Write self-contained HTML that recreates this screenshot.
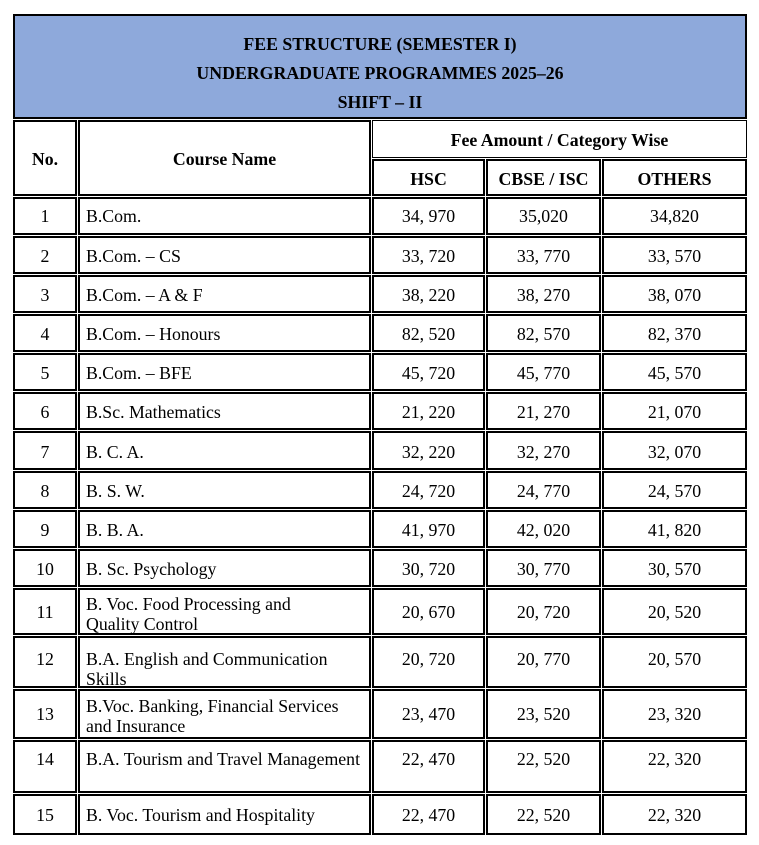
<!DOCTYPE html>
<html><head><meta charset="utf-8"><style>
body{margin:0;width:759px;height:845px;background:#fff;position:relative;font-family:"Liberation Serif",serif;color:#000;overflow:hidden}
.b{position:absolute;border:1px solid #000;box-sizing:border-box}
.t{position:absolute;font-size:17.8px;line-height:20px;white-space:nowrap}
.c{text-align:center}
.h{font-weight:bold}
</style></head><body>
<div class="b" style="left:13px;top:14px;width:734px;height:105px;background:#8EA9DB;border-width:2px"></div>
<div class="t c h" style="left:13px;width:734px;top:34px">FEE STRUCTURE (SEMESTER I)</div>
<div class="t c h" style="left:13px;width:734px;top:63px">UNDERGRADUATE PROGRAMMES 2025–26</div>
<div class="t c h" style="left:13px;width:734px;top:92px">SHIFT – II</div>
<div id="g"></div>
<script>
var cols=[[13,77],[78,371],[372,485],[486,601],[602,747]];
var h='';
function box(x1,y1,x2,y2,bw){h+='<div class="b" style="left:'+x1+'px;top:'+y1+'px;width:'+(x2-x1)+'px;height:'+(y2-y1)+'px;border-width:'+(bw||1)+'px"></div>';}
function txt(x1,x2,cy,s,cls,pad){h+='<div class="t '+cls+'" style="left:'+(x1+(pad||0))+'px;width:'+(x2-x1-(pad||0))+'px;top:'+(cy-9)+'px">'+s+'</div>';}
box(13,120,77,196,2);box(78,120,371,196,2);box(372,120,747,158,1);
box(372,159,485,196,2);box(486,159,601,196,2);box(602,159,747,196,2);
txt(13,77,158,'No.','c h');txt(78,371,158,'Course Name','c h');
txt(372,747,139,'Fee Amount / Category Wise','c h');
txt(372,485,178,'HSC','c h');txt(486,601,178,'CBSE / ISC','c h');txt(602,747,178,'OTHERS','c h');
var rows=[
[197,235,215,'B.Com.','34, 970','35,020','34,820'],
[236,274,255,'B.Com. – CS','33, 720','33, 770','33, 570'],
[275,313,294,'B.Com. – A &amp; F','38, 220','38, 270','38, 070'],
[314,352,333,'B.Com. – Honours','82, 520','82, 570','82, 370'],
[353,391,372,'B.Com. – BFE','45, 720','45, 770','45, 570'],
[392,430,411,'B.Sc. Mathematics','21, 220','21, 270','21, 070'],
[431,470,451,'B. C. A.','32, 220','32, 270','32, 070'],
[471,509,490,'B. S. W.','24, 720','24, 770','24, 570'],
[510,548,529,'B. B. A.','41, 970','42, 020','41, 820'],
[549,587,568,'B. Sc. Psychology','30, 720','30, 770','30, 570'],
[588,635,611,['B. Voc. Food Processing and','Quality Control',603],'20, 670','20, 720','20, 520'],
[636,688,658,['B.A. English and Communication','Skills',658],'20, 720','20, 770','20, 570'],
[689,739,713,['B.Voc. Banking, Financial Services','and Insurance',705],'23, 470','23, 520','23, 320'],
[740,793,758,'B.A. Tourism and Travel Management','22, 470','22, 520','22, 320'],
[794,835,814,'B. Voc. Tourism and Hospitality','22, 470','22, 520','22, 320']];
rows.forEach(function(r,i){
 cols.forEach(function(c){box(c[0],r[0],c[1],r[1],2);});
 txt(13,77,r[2],String(i+1),'c');
 if(typeof r[3]=='string')txt(78,371,r[2],r[3],'',8);
 else{txt(78,371,r[3][2],r[3][0],'',8);txt(78,371,r[3][2]+20,r[3][1],'',8);}
 txt(372,485,r[2],r[4],'c');txt(486,601,r[2],r[5],'c');txt(602,747,r[2],r[6],'c');
});
document.getElementById('g').innerHTML=h;
</script>
</body></html>
